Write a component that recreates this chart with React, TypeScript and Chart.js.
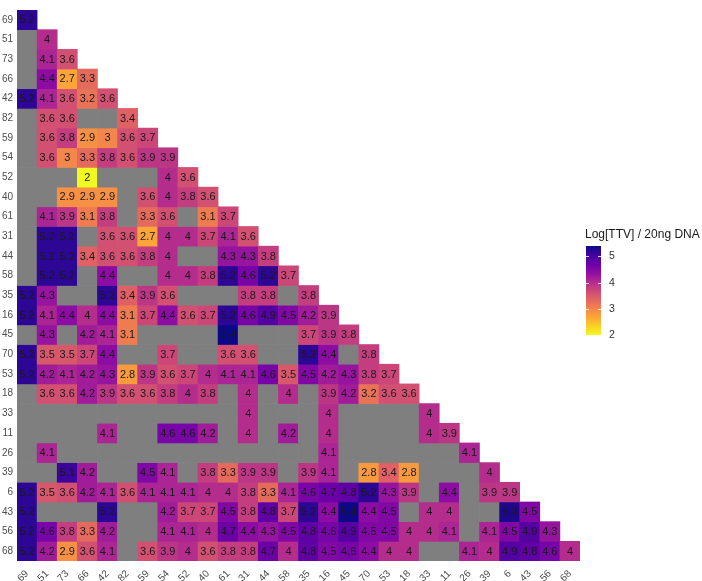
import React, { useEffect, useRef } from "react";
import { Chart, registerables } from "chart.js";

Chart.register(...registerables);

// Sample identifiers, used for both axes (top-to-bottom rows, left-to-right columns)
const samples = [
  "69", "51", "73", "66", "42", "82", "59", "54", "52", "40", "61", "31", "44", "58",
  "35", "16", "45", "70", "53", "18", "33", "11", "26", "39", "6", "43", "56", "68",
];

// Lower-triangle values of Log[TTV] / 20ng DNA; null = not available (grey tile)
const row69 = [5.2];
const row51 = [null, 4];
const row73 = [null, 4.1, 3.6];
const row66 = [null, 4.4, 2.7, 3.3];
const row42 = [5.2, 4.1, 3.6, 3.2, 3.6];
const row82 = [null, 3.6, 3.6, null, null, 3.4];
const row59 = [null, 3.6, 3.8, 2.9, 3, 3.6, 3.7];
const row54 = [null, 3.6, 3, 3.3, 3.8, 3.6, 3.9, 3.9];
const row52 = [null, null, null, 2, null, null, null, 4, 3.6];
const row40 = [null, null, 2.9, 2.9, 2.9, null, 3.6, 4, 3.8, 3.6];
const row61 = [null, 4.1, 3.9, 3.1, 3.8, null, 3.3, 3.6, null, 3.1, 3.7];
const row31 = [null, 5.2, 5.2, null, 3.6, 3.6, 2.7, 4, 4, 3.7, 4.1, 3.6];
const row44 = [null, 5.2, 5.2, 3.4, 3.6, 3.6, 3.8, 4, null, null, 4.3, 4.3, 3.8];
const row58 = [null, 5.2, 5.2, null, 4.4, null, null, 4, 4, 3.8, 5.2, 4.6, 5.2, 3.7];
const row35 = [5.2, 4.3, null, null, 5.2, 3.4, 3.9, 3.6, null, null, null, 3.8, 3.8, null, 3.8];
const row16 = [5.2, 4.1, 4.4, 4, 4.4, 3.1, 3.7, 4.4, 3.6, 3.7, 5.2, 4.6, 4.9, 4.5, 4.2, 3.9];
const row45 = [null, 4.3, null, 4.2, 4.1, 3.1, null, null, null, null, 5.4, null, null, null, 3.7, 3.9, 3.8];
const row70 = [5.2, 3.5, 3.5, 3.7, 4.4, null, null, 3.7, null, null, 3.6, 3.6, null, null, 5.2, 4.4, null, 3.8];
const row53 = [5.2, 4.2, 4.1, 4.2, 4.3, 2.8, 3.9, 3.6, 3.7, 4, 4.1, 4.1, 4.6, 3.5, 4.5, 4.2, 4.3, 3.8, 3.7];
const row18 = [null, 3.6, 3.6, 4.2, 3.9, 3.6, 3.6, 3.8, 4, 3.8, null, 4, null, 4, null, 3.9, 4.2, 3.2, 3.6, 3.6];
const row33 = [null, null, null, null, null, null, null, null, null, null, null, 4, null, null, null, 4, null, null, null, null, 4];
const row11 = [null, null, null, null, 4.1, null, null, 4.6, 4.6, 4.2, null, 4, null, 4.2, null, 4, null, null, null, null, 4, 3.9];
const row26 = [null, 4.1, null, null, null, null, null, null, null, null, null, null, null, null, null, 4.1, null, null, null, null, null, null, 4.1];
const row39 = [null, null, 5.1, 4.2, null, null, 4.5, 4.1, null, 3.8, 3.3, 3.9, 3.9, null, 3.9, 4.1, null, 2.8, 3.4, 2.8, null, null, null, 4];
const row6 = [5.2, 3.5, 3.6, 4.2, 4.1, 3.6, 4.1, 4.1, 4.1, 4, 4, 3.8, 3.3, 4.1, 4.6, 4.7, 4.8, 5.2, 4.3, 3.9, null, 4.4, null, 3.9, 3.9];
const row43 = [5.2, null, null, null, 5.2, null, null, 4.2, 3.7, 3.7, 4.5, 3.8, 4.8, 3.7, 5.2, 4.4, 5.4, 4.4, 4.5, null, 4, 4, null, null, 5.3, 4.5];
const row56 = [5.2, 4.6, 3.8, 3.3, 4.2, null, null, 4.1, 4.1, 4, 4.7, 4.4, 4.3, 4.5, 4.8, 4.6, 4.9, 4.5, 4.5, 4, 4, 4.1, null, 4.1, 4.5, 4.9, 4.3];
const row68 = [5.2, 4.2, 2.9, 3.6, 4.1, null, 3.6, 3.9, 4, 3.6, 3.8, 3.8, 4.7, 4, 4.8, 4.5, 4.6, 4.4, 4, 4, null, null, 4.1, 4, 4.9, 4.8, 4.6, 4];

const ttvRows: (number | null)[][] = [
  row69, row51, row73, row66, row42, row82, row59, row54, row52, row40, row61, row31, row44, row58,
  row35, row16, row45, row70, row53, row18, row33, row11, row26, row39, row6, row43, row56, row68,
];

// Colour scale limits and legend
const scaleMin = 2;
const scaleMax = 5.4;
const legendTicks = [2, 3, 4, 5];
const legendTitle = "Log[TTV] / 20ng DNA";
const naColor = "#7f7f7f";

const FONT = "'Liberation Sans', Arial, Helvetica, sans-serif";

// plasma palette, evenly spaced stops from 0 (dark) to 1 (bright)
const plasmaStops = [
  "#0d0887", "#41049d", "#6a00a8", "#8f0da4", "#b12a90", "#cc4778",
  "#e16462", "#f2844b", "#fca636", "#fcce25", "#f0f921",
];

function hexToRgb(h: string) {
  return [parseInt(h.slice(1, 3), 16), parseInt(h.slice(3, 5), 16), parseInt(h.slice(5, 7), 16)];
}

function plasma(t: number) {
  const tt = Math.max(0, Math.min(1, t)) * (plasmaStops.length - 1);
  const i = Math.min(Math.floor(tt), plasmaStops.length - 2);
  const f = tt - i;
  const a = hexToRgb(plasmaStops[i]);
  const b = hexToRgb(plasmaStops[i + 1]);
  const c = a.map((v, k) => Math.round(v + (b[k] - v) * f));
  return `rgb(${c[0]},${c[1]},${c[2]})`;
}

// high values dark, low values bright
function fillFor(v: number | null) {
  if (v === null || v === undefined) return naColor;
  return plasma(1 - (v - scaleMin) / (scaleMax - scaleMin));
}

const cellLabels = {
  id: "cellLabels",
  afterDatasetsDraw(chart: any) {
    const ctx = chart.ctx;
    ctx.save();
    ctx.font = `11px ${FONT}`;
    ctx.fillStyle = "#1a1a1a";
    ctx.textAlign = "center";
    ctx.textBaseline = "middle";
    ttvRows.forEach((row, r) => {
      const meta = chart.getDatasetMeta(r);
      row.forEach((v, c) => {
        if (v === null) return;
        const el = meta.data[c];
        if (!el) return;
        ctx.fillText(String(v), el.x, (el.y + el.base) / 2 + 0.5);
      });
    });
    ctx.restore();
  },
};

const colorLegend = {
  id: "colorLegend",
  afterDraw(chart: any) {
    const ctx = chart.ctx;
    const x0 = 586;
    const w = 15;
    const top = 246;
    const bottom = 335;
    const yFor = (v: number) => bottom - ((v - scaleMin) / (scaleMax - scaleMin)) * (bottom - top);
    ctx.save();
    ctx.font = `12px ${FONT}`;
    ctx.fillStyle = "#1a1a1a";
    ctx.textAlign = "left";
    ctx.textBaseline = "middle";
    ctx.fillText(legendTitle, 585, 235);

    const grad = ctx.createLinearGradient(0, bottom, 0, top);
    for (let i = 0; i <= 40; i++) {
      const t = i / 40;
      grad.addColorStop(t, fillFor(scaleMin + t * (scaleMax - scaleMin)));
    }
    ctx.fillStyle = grad;
    ctx.fillRect(x0, top, w, bottom - top);

    ctx.strokeStyle = "rgba(255,255,255,0.8)";
    ctx.lineWidth = 1;
    ctx.font = `10.5px ${FONT}`;
    legendTicks.forEach((v) => {
      const y = Math.round(yFor(v)) + 0.5;
      ctx.beginPath();
      ctx.moveTo(x0, y);
      ctx.lineTo(x0 + 3, y);
      ctx.moveTo(x0 + w - 3, y);
      ctx.lineTo(x0 + w, y);
      ctx.stroke();
      ctx.fillStyle = "#333333";
      ctx.fillText(String(v), 609, y);
    });
    ctx.restore();
  },
};

export default function App() {
  const canvasRef = useRef<HTMLCanvasElement | null>(null);

  useEffect(() => {
    if (!canvasRef.current) return;
    const datasets = ttvRows.map((row, r) => ({
      label: samples[r],
      data: samples.map((_, c) => (c < row.length ? [r, r + 1] : null)),
      backgroundColor: samples.map((_, c) => fillFor(c < row.length ? row[c] : null)),
      borderWidth: 0,
      barPercentage: 1,
      categoryPercentage: 1,
      grouped: false,
    }));

    const chart = new Chart(canvasRef.current, {
      type: "bar",
      data: { labels: samples, datasets: datasets as any },
      options: {
        responsive: false,
        animation: false,
        events: [],
        layout: { padding: { left: 0, top: 1, right: 122, bottom: 0 } },
        plugins: { legend: { display: false }, tooltip: { enabled: false } },
        scales: {
          x: {
            type: "category",
            grid: { display: false, drawTicks: false },
            border: { display: false },
            ticks: {
              autoSkip: false,
              minRotation: 45,
              maxRotation: 45,
              padding: 7,
              color: "#4d4d4d",
              font: { size: 10, family: FONT },
            },
            afterFit: (scale: any) => {
              scale.height = 20;
            },
          },
          y: {
            type: "linear",
            min: 0,
            max: samples.length,
            reverse: true,
            grid: { display: false, drawTicks: false },
            border: { display: false },
            afterBuildTicks: (scale: any) => {
              scale.ticks = samples.map((_, i) => ({ value: i + 0.5 }));
            },
            ticks: {
              autoSkip: false,
              padding: 4,
              color: "#4d4d4d",
              font: { size: 10, family: FONT },
              callback: (value: any) => samples[Math.floor(Number(value))],
            },
            afterFit: (scale: any) => {
              scale.width = 17;
            },
          },
        },
      },
      plugins: [cellLabels, colorLegend],
    });
    return () => chart.destroy();
  }, []);

  return (
    <div style={{ position: "fixed", left: 0, top: 0, width: 702, height: 581, background: "#ffffff" }}>
      <canvas ref={canvasRef} width={702} height={581} style={{ display: "block" }} />
    </div>
  );
}
